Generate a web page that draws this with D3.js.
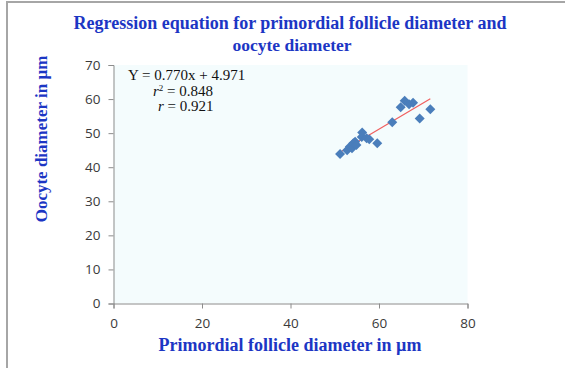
<!DOCTYPE html>
<html>
<head>
<meta charset="utf-8">
<script src="https://cdn.jsdelivr.net/npm/d3@7"></script>
<style>
  body { margin: 0; background: #fff; }
  .tick text { font-family: "Open Sans", sans-serif; font-size: 13.5px; fill: #3a3a3a; }
  .ttl { font-family: "Liberation Serif", serif; font-weight: bold; fill: #1c36c4; }
  .eq { font-family: "Liberation Serif", serif; font-size: 15px; fill: #111; }
</style>
</head>
<body>
<svg class="chart"></svg>
<script>
//
// data
//

var follicle = [51.2, 52.8, 53.4, 53.9, 54.2, 54.6, 54.9, 56.1, 56.2, 57.2, 57.8, 59.6, 63.0, 64.9, 65.8, 66.8, 67.7, 69.2, 71.6];
var oocyte   = [43.9, 45.0, 46.0, 45.6, 47.0, 47.5, 46.5, 48.9, 50.2, 48.5, 48.2, 47.0, 53.2, 57.6, 59.5, 58.5, 58.9, 54.3, 57.0];
var slope = 0.770, intercept = 4.971;
var eq_lines = ["Y = 0.770x + 4.971", "r\u00B2 = 0.848", "r = 0.921"];
var x_ticks = [0, 20, 40, 60, 80];
var y_ticks = [0, 10, 20, 30, 40, 50, 60, 70];

var width = 565, height = 368;

var svg = d3.select(".chart")
    .attr("width", width)
    .attr("height", height);

// frame
svg.append("path")
    .attr("d", "M7,368 V2 H565")
    .attr("fill", "none")
    .attr("stroke", "#a6a6a6")
    .attr("stroke-width", 2);

//
// scales
//

var x = d3.scaleLinear().domain([0, 80]).range([113.5, 467.5]);
var y = d3.scaleLinear().domain([0, 70]).range([303.5, 65]);

svg.append("rect")
    .attr("x", x(0))
    .attr("y", y(70))
    .attr("width", x(80) - x(0))
    .attr("height", y(0) - y(70))
    .attr("fill", "#f4fcfd");

var xAxis = svg.append("g")
    .attr("transform", "translate(0," + y(0) + ")")
    .call(d3.axisBottom(x).tickValues(x_ticks).tickSize(5).tickPadding(6));
var yAxis = svg.append("g")
    .attr("transform", "translate(" + x(0) + ",0)")
    .call(d3.axisLeft(y).tickValues(y_ticks).tickSize(5).tickPadding(8));
[xAxis, yAxis].forEach(function (a) {
    a.select(".domain").attr("stroke", "#8c8c8c");
    a.selectAll(".tick line").attr("stroke", "#8c8c8c");
});
xAxis.selectAll(".tick text").attr("dy", "1em");

//
// trend line
//

var xmin = d3.min(follicle), xmax = d3.max(follicle);
svg.append("line")
    .attr("x1", x(xmin)).attr("y1", y(slope * xmin + intercept))
    .attr("x2", x(xmax)).attr("y2", y(slope * xmax + intercept))
    .attr("stroke", "#f06060")
    .attr("stroke-width", 1.2);

//
// points
//

svg.selectAll("path.pt")
    .data(follicle)
    .enter().append("path")
    .attr("class", "pt")
    .attr("d", "M0,-5 L5,0 L0,5 L-5,0 Z")
    .attr("fill", "#4a7ebb")
    .attr("transform", function (d, i) {
        return "translate(" + x(d) + "," + y(oocyte[i]) + ")";
    });

//
// equation
//

var eq = svg.append("g").attr("class", "eq");
eq.append("text").attr("x", 128).attr("y", 80).text(eq_lines[0]);
var t2 = eq.append("text").attr("x", 153).attr("y", 96);
t2.append("tspan").attr("font-style", "italic").text("r");
t2.append("tspan").attr("font-size", "9px").attr("dy", -5).text("2");
t2.append("tspan").attr("dy", 5).text(" = 0.848");
var t3 = eq.append("text").attr("x", 158).attr("y", 111);
t3.append("tspan").attr("font-style", "italic").text("r");
t3.append("tspan").text(" = 0.921");

//
// titles
//

svg.append("text").attr("class", "ttl")
    .attr("x", 290).attr("y", 29)
    .attr("text-anchor", "middle")
    .attr("font-size", "18px")
    .text("Regression equation for primordial follicle diameter and");
svg.append("text").attr("class", "ttl")
    .attr("x", 292).attr("y", 51)
    .attr("text-anchor", "middle")
    .attr("font-size", "17.5px")
    .text("oocyte diameter");

svg.append("text").attr("class", "ttl")
    .attr("x", 290).attr("y", 351)
    .attr("text-anchor", "middle")
    .attr("font-size", "18px")
    .text("Primordial follicle diameter in \u00B5m");

svg.append("text").attr("class", "ttl")
    .attr("transform", "translate(47,139) rotate(-90)")
    .attr("text-anchor", "middle")
    .attr("font-size", "17px")
    .text("Oocyte diameter in \u00B5m");
</script>
</body>
</html>
